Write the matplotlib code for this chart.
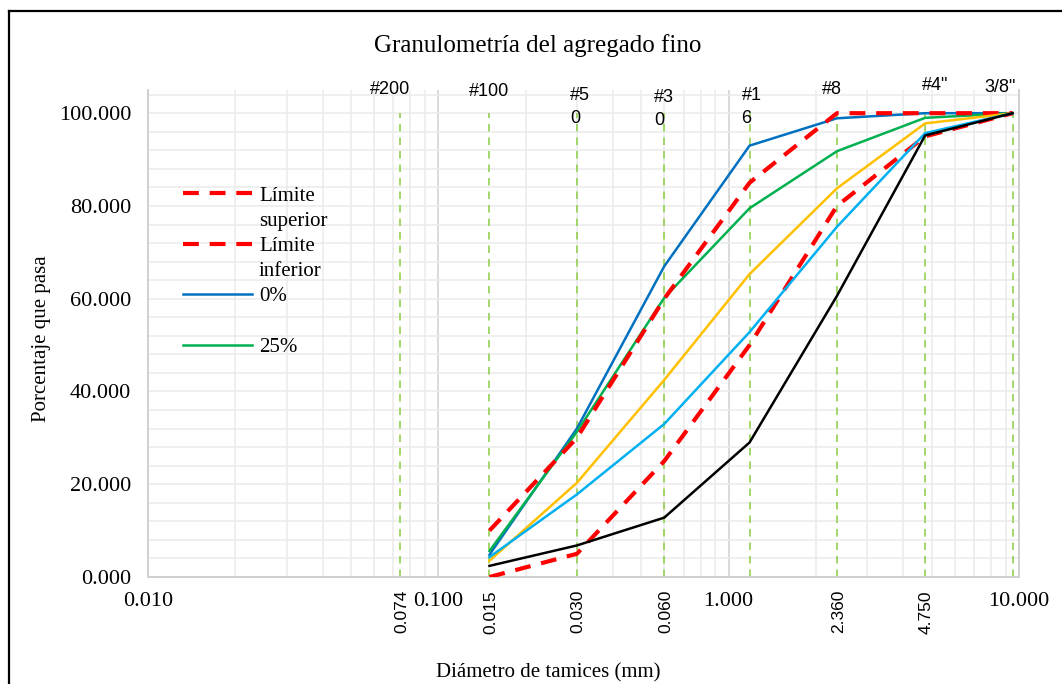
import matplotlib
matplotlib.use("Agg")
import matplotlib.pyplot as plt
from matplotlib.lines import Line2D
from matplotlib.ticker import FixedLocator, NullFormatter

# ---------------- data ----------------
sieve_names = ["#200", "#100", "#5\n0", "#3\n0", "#1\n6", "#8", "#4\"", "3/8\""]
sieve_mm = [0.074, 0.15, 0.30, 0.60, 1.18, 2.36, 4.75, 9.50]
bottom_labels = ["0.074", "0.015", "0.030", "0.060", "", "2.360", "4.750", ""]

x_mm = [0.15, 0.30, 0.60, 1.18, 2.36, 4.75, 9.50]
lim_sup = [10, 30, 60, 85, 100, 100, 100]
lim_inf = [0, 5, 25, 50, 80, 95, 100]
p0 = [4.8, 32, 67, 93, 98.9, 100, 100]
p25 = [5.6, 31.3, 60.2, 79.5, 91.8, 99.0, 100]
p50 = [3.5, 20.3, 42.5, 65.3, 83.8, 97.8, 100]
p75 = [4.3, 17.8, 33.0, 52.8, 75.5, 95.7, 100]
p100 = [2.4, 6.8, 12.8, 29.0, 60.6, 95.2, 100]

legend_rows = ["Límite", "superior", "Límite", "inferior", "0%", " ", "25%"]

xticks_main = [0.01, 0.1, 1.0, 10.0]
yticks_main = [0, 20, 40, 60, 80, 100]

# ---------------- style ----------------
SERIF = ["Liberation Serif", "DejaVu Serif"]
SANS = ["Liberation Sans", "DejaVu Sans"]
plt.rcParams["font.family"] = SERIF

fig = plt.figure(figsize=(10.62, 6.84), dpi=100)
L, R, B, T = 148 / 1062, 1019 / 1062, 1 - 577 / 684, 1 - 90 / 684
ax = fig.add_axes([L, B, R - L, T - B])
ax.set_xscale("log")
ax.set_xlim(0.01, 10.0)
ax.set_ylim(0, 105)

# grid
ax.yaxis.set_major_locator(FixedLocator(yticks_main))
ax.yaxis.set_minor_locator(FixedLocator(list(range(0, 105, 4))))
ax.set_yticklabels([f"{v:.3f}" for v in yticks_main])
ax.xaxis.set_major_locator(FixedLocator(xticks_main))
ax.set_xticklabels([f"{v:.3f}" for v in xticks_main])
minors = []
for d in [0.01, 0.1, 1.0]:
    for k in range(2, 10):
        minors.append(d * k)
ax.xaxis.set_minor_locator(FixedLocator(minors))
ax.xaxis.set_minor_formatter(NullFormatter())
ax.grid(True, which="minor", axis="both", color="#EBEBEB", lw=1.1, zorder=0)
ax.grid(True, which="major", axis="y", color="#EBEBEB", lw=1.1, zorder=0)
ax.grid(True, which="major", axis="x", color="#CFCFCF", lw=1.1, zorder=0)
ax.set_axisbelow(True)
ax.tick_params(which="both", length=0)
ax.tick_params(axis="y", pad=12, labelsize=16, labelcolor="black")
ax.tick_params(axis="x", pad=11, labelsize=16, labelcolor="black")
for s in ["left", "bottom", "right"]:
    ax.spines[s].set_color("#D0D0D0")
    ax.spines[s].set_linewidth(1.4)
ax.spines["top"].set_visible(False)

# sieve guide lines
ax.vlines(sieve_mm, 0, 100, colors="#92D050", lw=1.2,
          linestyles=(0, (4.5, 3.6)), zorder=1)

# series
h0, = ax.plot(x_mm, p0, color="#0070C0", lw=1.8, zorder=3)
h25, = ax.plot(x_mm, p25, color="#00B050", lw=1.8, zorder=3)
hs, = ax.plot(x_mm, lim_sup, color="#FF0000", lw=3, ls=(0, (3.8, 2.6)), zorder=4)
hi, = ax.plot(x_mm, lim_inf, color="#FF0000", lw=3, ls=(0, (3.8, 2.6)), zorder=4)
ax.plot(x_mm, p50, color="#FFC000", lw=1.8, zorder=5)
ax.plot(x_mm, p75, color="#00B0F0", lw=1.8, zorder=5)
ax.plot(x_mm, p100, color="#000000", lw=1.8, zorder=5)

# top sieve names (offsets in pixels from sieve line at axes top)
name_offsets_px = [(-10, 0), (0, -1), (3, -17), (0, -19), (2, -17), (-5, 0), (10, 4), (-13, 3)]
for name, xv, (dx, dy) in zip(sieve_names, sieve_mm, name_offsets_px):
    ax.annotate(name, xy=(xv, 1.0), xycoords=("data", "axes fraction"),
                xytext=(dx * 0.72, dy * 0.72), textcoords="offset points",
                ha="center", va="center", multialignment="left",
                fontsize=13, family=SANS, annotation_clip=False,
                linespacing=1.45)

# bottom rotated labels
for lab, xv in zip(bottom_labels, sieve_mm):
    if lab:
        ax.annotate(lab, xy=(xv, 0), xycoords=("data", "axes fraction"),
                    xytext=(1, -13 * 0.72), textcoords="offset points",
                    rotation=90, ha="center", va="top", fontsize=12.5,
                    family=SANS, annotation_clip=False)

# legend (continuation rows carry an invisible handle)
blank = Line2D([], [], color="none")
leg = ax.legend([hs, blank, hi, blank, h0, blank, h25], legend_rows,
                loc="upper left", bbox_to_anchor=((183 - 148) / 871, (577 - 186) / 487),
                frameon=False, fontsize=15, handlelength=3.3, handletextpad=0.35,
                labelspacing=0.27, borderpad=0, borderaxespad=0)

# titles
fig.text(538 / 1062, 1 - 46 / 684, "Granulometría del agregado fino",
         ha="center", va="center", fontsize=18)
fig.text(42 / 1062, 1 - 339 / 684, "Porcentaje que pasa", rotation=90,
         ha="center", va="center", fontsize=15)
fig.text(548 / 1062, 1 - 673 / 684, "Diámetro de tamices (mm)",
         ha="center", va="center", fontsize=15)

# chart border (left and top)
fig.add_artist(Line2D([9 / 1062, 9 / 1062], [0, 1 - 11 / 684],
                      transform=fig.transFigure, color="black", lw=1.6))
fig.add_artist(Line2D([9 / 1062, 1.0], [1 - 11 / 684, 1 - 11 / 684],
                      transform=fig.transFigure, color="black", lw=1.6))

fig.savefig("out.png", dpi=100)
